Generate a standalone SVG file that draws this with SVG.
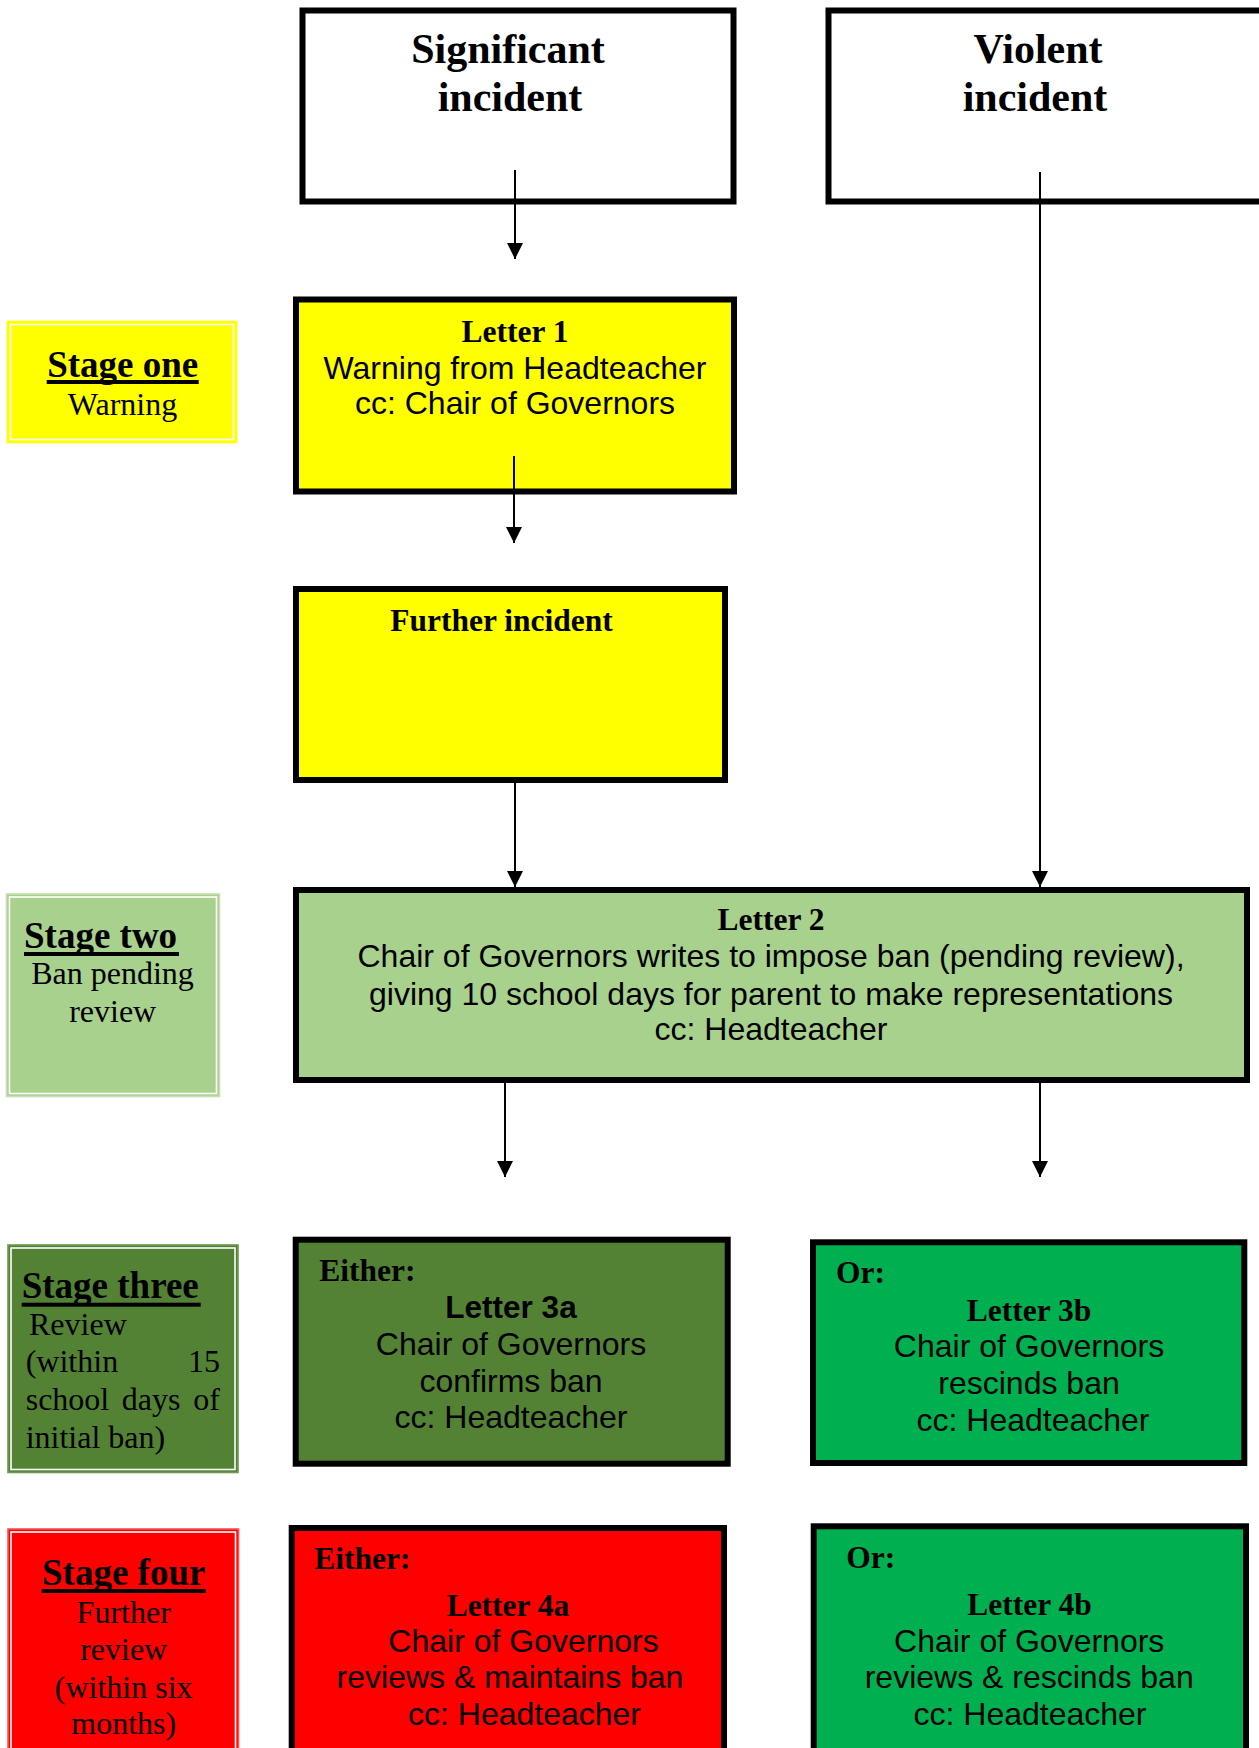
<svg xmlns="http://www.w3.org/2000/svg" width="1259" height="1748" viewBox="0 0 1259 1748">
<style>
.box{stroke:#000;stroke-width:6}
.ser{font-family:"Liberation Serif","Times New Roman",serif;fill:#000}
.sans{font-family:"Liberation Sans",Arial,sans-serif;fill:#000;font-size:32px}
.b{font-weight:bold}
.big{font-size:42px;font-weight:bold}
.st{font-size:37px;font-weight:bold}
.n{font-size:31.5px}
.r{font-size:32px}
.c{text-anchor:middle}
.conn{stroke:#000;stroke-width:2;fill:none}
.inner{fill:none;stroke:#fff;stroke-width:1.6}
</style>
<defs>
<marker id="ah" markerUnits="userSpaceOnUse" markerWidth="16" markerHeight="16" viewBox="0 0 16 16" refX="16" refY="8" orient="auto">
<path d="M0,0 L16,8 L0,16 z" fill="#000"/>
</marker>
</defs>
<rect width="1259" height="1748" fill="#fff"/>

<g id="significant">
<rect class="box" x="302.5" y="10.5" width="431" height="191" fill="#fff"/>
<text class="ser big c" x="508" y="63">Significant</text>
<text class="ser big c" x="510" y="111">incident</text>
</g>

<g id="violent">
<rect class="box" x="828.5" y="10.5" width="440" height="191" fill="#fff"/>
<text class="ser big c" x="1038" y="63">Violent</text>
<text class="ser big c" x="1035" y="111">incident</text>
</g>

<g id="stage-one">
<rect x="7.5" y="321.5" width="229" height="121" fill="#FFFF00" stroke="#FFFF00" stroke-width="1.6"/>
<rect class="inner" x="10.5" y="324.5" width="223" height="115"/>
<text class="ser st c" x="122.7" y="376.7">Stage one</text>
<rect x="46.7" y="380" width="152" height="4" fill="#000"/>
<text class="ser r c" x="122.5" y="415">Warning</text>
</g>

<g id="letter1">
<rect class="box" x="296" y="299.5" width="438" height="192" fill="#FFFF00"/>
<text class="ser n b c" x="515" y="342">Letter 1</text>
<text class="sans c" x="515" y="378.6">Warning from Headteacher</text>
<text class="sans c" x="515" y="414">cc: Chair of Governors</text>
</g>

<g id="further">
<rect class="box" x="296" y="589" width="429" height="191" fill="#FFFF00"/>
<text class="ser n b c" x="501.5" y="631.4">Further incident</text>
</g>

<g id="stage-two">
<rect x="6.5" y="894" width="213" height="202.5" fill="#A9D18E" stroke="#C5E0B4" stroke-width="1.6"/>
<rect class="inner" x="9.5" y="897" width="207" height="196.5"/>
<text class="ser st" x="24" y="947.7">Stage two</text>
<rect x="24" y="952" width="155" height="4" fill="#000"/>
<text class="ser r c" x="112.5" y="984">Ban pending</text>
<text class="ser r c" x="112.7" y="1021.7">review</text>
</g>

<g id="letter2">
<rect class="box" x="296" y="890" width="951" height="190" fill="#A9D18E"/>
<text class="ser n b c" x="771" y="929.6">Letter 2</text>
<text class="sans c" x="771" y="967">Chair of Governors writes to impose ban (pending review),</text>
<text class="sans c" x="771" y="1004.6">giving 10 school days for parent to make representations</text>
<text class="sans c" x="771" y="1040">cc: Headteacher</text>
</g>

<g id="stage-three">
<rect x="8" y="1245" width="230" height="227.5" fill="#548235" stroke="#6B9A50" stroke-width="1.6"/>
<rect class="inner" x="11" y="1248" width="224" height="221.5"/>
<text class="ser st" x="21.7" y="1298">Stage three</text>
<rect x="21.7" y="1302.7" width="179" height="4" fill="#000"/>
<text class="ser r" x="29" y="1335">Review</text>
<text class="ser r" x="25.7" y="1371.7">(within</text>
<text class="ser r" x="220" y="1371.7" text-anchor="end">15</text>
<text class="ser r" x="25.7" y="1410">school</text>
<text class="ser r c" x="151" y="1410">days</text>
<text class="ser r" x="220" y="1410" text-anchor="end">of</text>
<text class="ser r" x="25.7" y="1448">initial ban)</text>
</g>

<g id="letter3a">
<rect class="box" x="295.7" y="1239.7" width="432" height="224" fill="#548235"/>
<text class="ser n b" x="319.3" y="1280.7">Either:</text>
<text class="sans b c" x="511" y="1318.3" style="font-size:31.5px">Letter 3a</text>
<text class="sans c" x="511" y="1355">Chair of Governors</text>
<text class="sans c" x="511" y="1391.7">confirms ban</text>
<text class="sans c" x="511" y="1428.3">cc: Headteacher</text>
</g>

<g id="letter3b">
<rect class="box" x="813" y="1242.3" width="431.3" height="220.7" fill="#00B050"/>
<text class="ser n b" x="836" y="1283.3">Or:</text>
<text class="ser n b c" x="1029" y="1320.7">Letter 3b</text>
<text class="sans c" x="1029" y="1357.3">Chair of Governors</text>
<text class="sans c" x="1029" y="1394">rescinds ban</text>
<text class="sans c" x="1033" y="1431">cc: Headteacher</text>
</g>

<g id="stage-four">
<rect x="8" y="1529" width="230.5" height="240" fill="#FF0000" stroke="#FF5050" stroke-width="1.6"/>
<rect class="inner" x="11" y="1532" width="224.5" height="240"/>
<text class="ser st c" x="123.7" y="1585">Stage four</text>
<rect x="41.7" y="1589" width="164" height="4" fill="#000"/>
<text class="ser r c" x="123.7" y="1623.3">Further</text>
<text class="ser r c" x="123.7" y="1660">review</text>
<text class="ser r c" x="123.7" y="1698.3">(within six</text>
<text class="ser r c" x="123.7" y="1734">months)</text>
</g>

<g id="letter4a">
<rect class="box" x="291.7" y="1528" width="432.3" height="260" fill="#FF0000"/>
<text class="ser n b" x="314.3" y="1569">Either:</text>
<text class="ser n b c" x="508" y="1616">Letter 4a</text>
<text class="sans c" x="523.5" y="1651.7">Chair of Governors</text>
<text class="sans c" x="510" y="1688.3">reviews &amp; maintains ban</text>
<text class="sans c" x="524.5" y="1725">cc: Headteacher</text>
</g>

<g id="letter4b">
<rect class="box" x="813.7" y="1526.3" width="432.3" height="260" fill="#00B050"/>
<text class="ser n b" x="846.3" y="1568.3">Or:</text>
<text class="ser n b c" x="1029.5" y="1615">Letter 4b</text>
<text class="sans c" x="1029.2" y="1651.7">Chair of Governors</text>
<text class="sans c" x="1029.2" y="1688.3">reviews &amp; rescinds ban</text>
<text class="sans c" x="1030" y="1725">cc: Headteacher</text>
</g>

<g id="connectors">
<line class="conn" x1="515" y1="170" x2="515" y2="259" marker-end="url(#ah)"/>
<line class="conn" x1="514" y1="456" x2="514" y2="543" marker-end="url(#ah)"/>
<line class="conn" x1="515" y1="783" x2="515" y2="887" marker-end="url(#ah)"/>
<line class="conn" x1="1040" y1="172" x2="1040" y2="887" marker-end="url(#ah)"/>
<line class="conn" x1="505" y1="1083" x2="505" y2="1177" marker-end="url(#ah)"/>
<line class="conn" x1="1040" y1="1083" x2="1040" y2="1177" marker-end="url(#ah)"/>
</g>
</svg>
